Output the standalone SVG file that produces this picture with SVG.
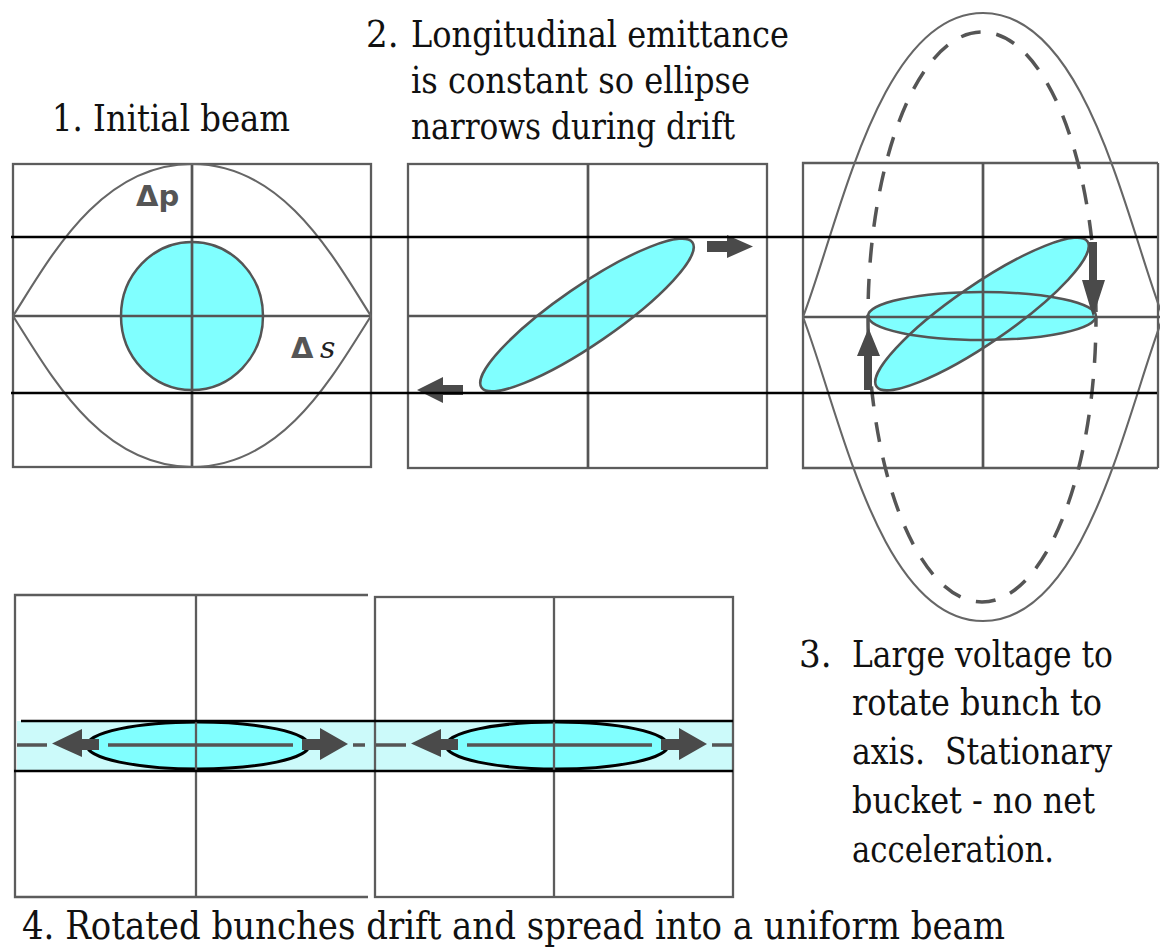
<svg xmlns="http://www.w3.org/2000/svg" width="1160" height="947" viewBox="0 0 1160 947">
<style>
.frame{fill:none;stroke:#5c5c5c;stroke-width:2.3}
.axis{fill:none;stroke:#555;stroke-width:2.7}
.curve{fill:none;stroke:#666;stroke-width:2.1}
.beam{fill:#80ffff;stroke:none}
.edge{fill:none;stroke:#555;stroke-width:2.5}
.blk{stroke:#000;stroke-width:2.6;fill:none}
.arrow{fill:#4a4a4a;stroke:none}
.lab{font-family:'DejaVu Sans',sans-serif;fill:#555;font-size:29px;font-weight:bold}
</style>
<rect width="1160" height="947" fill="#fff"/>

<g id="panel1">
  <ellipse class="beam" cx="192" cy="316" rx="71" ry="74"/>
  <ellipse class="edge" cx="192" cy="316" rx="71" ry="74"/>
  <rect class="frame" x="13" y="164" width="358" height="303"/>
  <line class="axis" x1="192" y1="164" x2="192" y2="467"/>
  <line class="axis" x1="13" y1="316" x2="371" y2="316" stroke-width="3"/>
  <path class="curve" d="M13,316 C50,258 100,164 192,164 C284,164 334,258 371,316"/>
  <path class="curve" d="M13,316 C50,374 100,467 192,467 C284,467 334,374 371,316"/>
  <text class="lab" x="136" y="206">Δp</text>
  <text class="lab" x="291" y="358" font-size="26">Δ</text>
  <text x="320" y="358" font-family="'DejaVu Serif',serif" font-style="italic" font-size="30" fill="#222">s</text>
</g>

<g id="panel2">
  <ellipse class="beam" cx="587" cy="315" rx="128" ry="29" transform="rotate(-34.5 587 315)"/>
  <ellipse class="edge" cx="587" cy="315" rx="128" ry="29" transform="rotate(-34.5 587 315)"/>
  <rect class="frame" x="408" y="164" width="359" height="304"/>
  <line class="axis" x1="588" y1="164" x2="588" y2="468"/>
  <line class="axis" x1="408" y1="316" x2="767" y2="316"/>
  <polygon class="arrow" points="707,241 727,241 727,235 753,246.5 727,258 727,252 707,252"/>
  <polygon class="arrow" points="463,385 443,385 443,377 417,390 443,403 443,395 463,395"/>
</g>

<g id="panel3">
  <ellipse class="beam" cx="982" cy="314" rx="128" ry="29" transform="rotate(-34.5 982 314)"/>
  <ellipse class="beam" cx="982" cy="316" rx="114" ry="24"/>
  <ellipse class="edge" cx="982" cy="314" rx="128" ry="29" transform="rotate(-34.5 982 314)"/>
  <ellipse class="edge" cx="982" cy="316" rx="114" ry="24"/>
  <path class="frame" d="M1158,163 H803 V468 H1158"/>
  <line class="frame" x1="1158" y1="163" x2="1158" y2="468"/>
  <line class="axis" x1="983" y1="163" x2="983" y2="468"/>
  <line class="axis" x1="803" y1="317" x2="1160" y2="317"/>
  <path class="curve" stroke-width="1.8" d="M803,317 C840,220 880,13 983,13 C1086,13 1126,220 1163,317"/>
  <path class="curve" stroke-width="1.8" d="M803,317 C840,414 880,621 983,621 C1086,621 1126,414 1163,317"/>
  <ellipse cx="982" cy="317" rx="114" ry="285" fill="none" stroke="#555" stroke-width="3.5" stroke-dasharray="20 16" stroke-dashoffset="10"/>
  <polygon class="arrow" points="864,390 864,356 857,356 868.5,328 880,356 872,356 872,390"/>
  <polygon class="arrow" points="1089,242 1097,242 1097,280 1105,280 1093,317 1082,280 1089,280"/>
</g>

<g id="panel4">
  <rect x="17" y="721" width="716" height="50" fill="#ccfafa"/>
  <ellipse cx="198" cy="745.5" rx="111" ry="23.5" fill="#80ffff" stroke="#000" stroke-width="3"/>
  <ellipse cx="557" cy="745.5" rx="111" ry="23.5" fill="#80ffff" stroke="#000" stroke-width="3"/>
  <path class="frame" d="M368,595 H15 V897 H368"/>
  <line class="frame" x1="196" y1="595" x2="196" y2="897"/>
  <rect class="frame" x="375" y="597" width="358" height="300"/>
  <line class="frame" x1="554" y1="597" x2="554" y2="897"/>
  <g stroke="#555" stroke-width="3.5">
    <line x1="17" y1="745" x2="47" y2="745"/>
    <line x1="108" y1="745" x2="293" y2="745"/>
    <line x1="353" y1="745" x2="365" y2="745"/>
    <line x1="376" y1="745" x2="406" y2="745"/>
    <line x1="467" y1="745" x2="652" y2="745"/>
    <line x1="712" y1="745" x2="733" y2="745"/>
  </g>
  <polygon class="arrow" points="99,739 82,739 82,729 52,743.5 82,757 82,750 99,750"/>
  <polygon class="arrow" points="302,739 320,739 320,728 348,744 320,760 320,750 302,750"/>
  <polygon class="arrow" points="458,739 441,739 441,729 411,743.5 441,757 441,750 458,750"/>
  <polygon class="arrow" points="661,739 679,739 679,728 707,744 679,760 679,750 661,750"/>
  <line class="blk" x1="21" y1="721" x2="733" y2="721"/>
  <line class="blk" x1="14" y1="771" x2="733" y2="771"/>
</g>

<g id="connectors">
  <line class="blk" x1="11" y1="237" x2="1157" y2="237"/>
  <line class="blk" x1="11" y1="393" x2="1157" y2="393"/>
</g>

<g id="labels" font-family="'DejaVu Serif Condensed','DejaVu Serif',serif" font-size="38" fill="#111">
  <text x="52" y="131" font-size="37" textLength="238" lengthAdjust="spacingAndGlyphs">1. Initial beam</text>
  <text x="366" y="47">2.</text>
  <text x="411" y="47" textLength="378" lengthAdjust="spacingAndGlyphs">Longitudinal emittance</text>
  <text x="411" y="93" textLength="339" lengthAdjust="spacingAndGlyphs">is constant so ellipse</text>
  <text x="411" y="139" textLength="324" lengthAdjust="spacingAndGlyphs">narrows during drift</text>
  <text x="799" y="667">3.</text>
  <text x="852" y="667" textLength="261" lengthAdjust="spacingAndGlyphs">Large voltage to</text>
  <text x="852" y="715" textLength="250" lengthAdjust="spacingAndGlyphs">rotate bunch to</text>
  <text x="852" y="764" textLength="260" lengthAdjust="spacingAndGlyphs" xml:space="preserve">axis.  Stationary</text>
  <text x="852" y="813" textLength="243" lengthAdjust="spacingAndGlyphs">bucket - no net</text>
  <text x="852" y="862" textLength="202" lengthAdjust="spacingAndGlyphs">acceleration.</text>
  <text x="22" y="939" font-size="39" textLength="983" lengthAdjust="spacingAndGlyphs">4. Rotated bunches drift and spread into a uniform beam</text>
</g>
</svg>
